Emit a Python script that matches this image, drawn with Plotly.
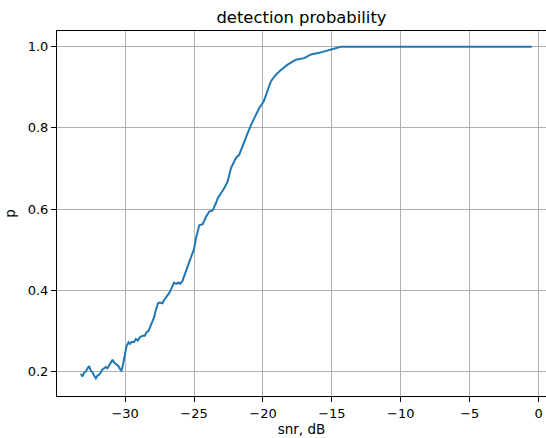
import plotly.graph_objects as go

snr_db = [-33.21, -33.09, -32.97, -32.85, -32.72, -32.61, -32.49, -32.36, -32.25, -32.12,
          -32.00, -31.88, -31.76, -31.64, -31.52, -31.40, -31.28, -31.16, -31.04, -30.91,
          -30.80, -30.67, -30.48, -30.36, -30.26, -30.14, -30.02, -29.90, -29.75, -29.64,
          -29.51, -29.35, -29.22, -29.08, -28.93, -28.74, -28.57, -28.45, -28.30, -28.14,
          -28.01, -27.90, -27.78, -27.61, -27.49, -27.29, -27.17, -27.00, -26.81, -26.69,
          -26.57, -26.45, -26.28, -26.13, -26.01, -25.84, -25.65, -25.48, -25.31, -25.12,
          -25.00, -24.86, -24.62, -24.37, -24.13, -23.89, -23.64, -23.41, -23.28, -22.80,
          -22.56, -22.32, -21.96, -21.72, -21.47, -21.11, -20.87, -20.51, -20.27, -19.95,
          -19.66, -19.42, -19.06, -18.70, -18.21, -17.61, -17.01, -16.52, -15.92, -15.31,
          -14.83, -14.35, -12.17, -0.50]
p_detect = [0.194, 0.188, 0.197, 0.200, 0.208, 0.213, 0.202, 0.198, 0.190, 0.183,
            0.190, 0.192, 0.198, 0.205, 0.208, 0.211, 0.208, 0.215, 0.225, 0.229,
            0.222, 0.219, 0.213, 0.205, 0.202, 0.219, 0.243, 0.262, 0.272, 0.268,
            0.273, 0.272, 0.280, 0.276, 0.284, 0.288, 0.288, 0.296, 0.300, 0.312,
            0.323, 0.333, 0.350, 0.368, 0.370, 0.368, 0.376, 0.383, 0.393, 0.401,
            0.412, 0.419, 0.416, 0.419, 0.416, 0.423, 0.441, 0.458, 0.470, 0.491,
            0.502, 0.528, 0.560, 0.563, 0.581, 0.594, 0.597, 0.615, 0.627, 0.652,
            0.668, 0.701, 0.726, 0.734, 0.758, 0.787, 0.807, 0.832, 0.849, 0.865,
            0.890, 0.915, 0.931, 0.943, 0.956, 0.968, 0.972, 0.981, 0.985, 0.991,
            0.997, 1.000, 1.000, 1.000]

x_ticks = [-30, -25, -20, -15, -10, -5, 0]
y_ticks = [0.2, 0.4, 0.6, 0.8, 1.0]

FONT = "DejaVu Sans"

fig = go.Figure()
fig.add_trace(go.Scatter(x=snr_db, y=p_detect, mode="lines",
                         line=dict(color="#1f77b4", width=2)))

fig.update_layout(
    width=546, height=438,
    margin=dict(l=57, r=0, t=31, b=42, autoexpand=False),
    paper_bgcolor="white", plot_bgcolor="white",
    showlegend=False,
    font=dict(family=FONT, size=13, color="black"),
    title=dict(text="detection probability", x=0.5, xref="paper", xanchor="center",
               y=1 - 17 / 438, yref="container", yanchor="middle",
               font=dict(family=FONT, size=16.4, color="black")),
)
fig.update_xaxes(
    range=[-34.94, 0.53], tickvals=x_ticks, ticktext=[str(v).replace("-", "\u2212") for v in x_ticks],
    showgrid=True, gridcolor="#b0b0b0", gridwidth=1, zeroline=False,
    showline=True, linecolor="black", linewidth=1, mirror=True,
    ticks="outside", ticklen=5, tickcolor="black", tickwidth=1,
    tickfont=dict(family=FONT, size=13, color="black"),
    title=dict(text="snr, dB", font=dict(family=FONT, size=13.5, color="black"), standoff=4),
)
fig.update_yaxes(
    range=[0.1395, 1.0388], tickvals=y_ticks, ticktext=[f"{v:.1f}" for v in y_ticks],
    showgrid=True, gridcolor="#b0b0b0", gridwidth=1, zeroline=False,
    showline=True, linecolor="black", linewidth=1, mirror=False,
    ticks="outside", ticklen=5, tickcolor="black", tickwidth=1,
    tickfont=dict(family=FONT, size=13, color="black"),
    title=dict(text="p", font=dict(family=FONT, size=13.5, color="black"), standoff=8),
)

fig.write_html("out.html", config={"displayModeBar": False},
               post_script="document.body.style.margin='0';document.body.style.overflow='hidden';")
